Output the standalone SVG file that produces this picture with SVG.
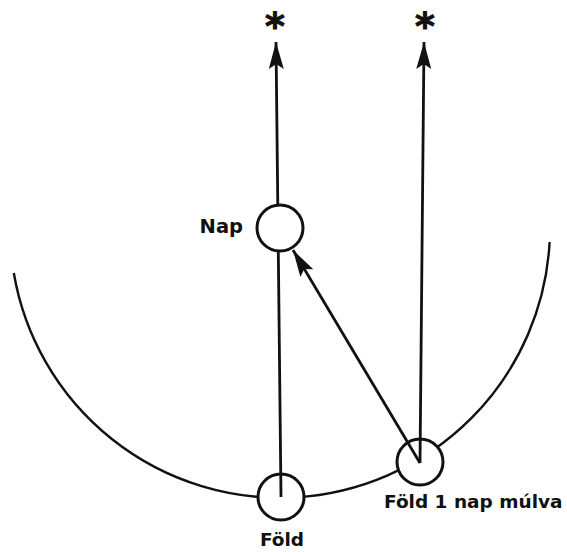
<svg xmlns="http://www.w3.org/2000/svg" width="567" height="552" viewBox="0 0 567 552">
  <style>
    .ln { stroke: #111; stroke-width: 2.8; fill: none; }
    .arc { stroke: #111; stroke-width: 2.4; fill: none; }
    .body { stroke: #111; stroke-width: 3; fill: #fff; }
    .lbl { font-family: "DejaVu Sans", "Liberation Sans", sans-serif; font-weight: bold; font-size: 18.5px; fill: #111; }
    .star { font-family: "DejaVu Sans", "Liberation Sans", sans-serif; font-weight: bold; font-size: 38px; fill: #111; text-anchor: middle; stroke: #111; stroke-width: 1; }
  </style>
  <defs>
    <marker id="ah" markerUnits="userSpaceOnUse" markerWidth="30" markerHeight="20" viewBox="-28 -10 30 20" refX="0" refY="0" orient="auto">
      <path d="M0,0 L-27,-7.5 L-22,0 L-27,7.5 Z" fill="#111"/>
    </marker>
  </defs>
  <rect width="567" height="552" fill="#fff"/>
  <g id="orbit">
    <path class="arc" d="M13.8,273 A270,270 0 0 0 549.6,242"/>
  </g>
  <g id="fold">
    <circle class="body" cx="281" cy="497" r="23"/>
    <text class="lbl" x="282" y="546" text-anchor="middle">Föld</text>
  </g>
  <g id="fold1">
    <circle class="body" cx="420" cy="462" r="23"/>
    <text class="lbl" x="384" y="508">Föld 1 nap múlva</text>
  </g>
  <g id="connectors">
    <line class="ln" x1="281" y1="497" x2="276" y2="42" marker-end="url(#ah)"/>
    <line class="ln" x1="420" y1="463" x2="424" y2="42" marker-end="url(#ah)"/>
    <line class="ln" x1="420" y1="463" x2="293" y2="250" marker-end="url(#ah)"/>
  </g>
  <g id="nap">
    <circle class="body" cx="280" cy="228" r="23"/>
    <text class="lbl" x="243" y="233" text-anchor="end" style="font-size:19.5px">Nap</text>
  </g>
  <g id="star1">
    <text class="star" x="275" y="39">*</text>
  </g>
  <g id="star2">
    <text class="star" x="425" y="39">*</text>
  </g>
</svg>
